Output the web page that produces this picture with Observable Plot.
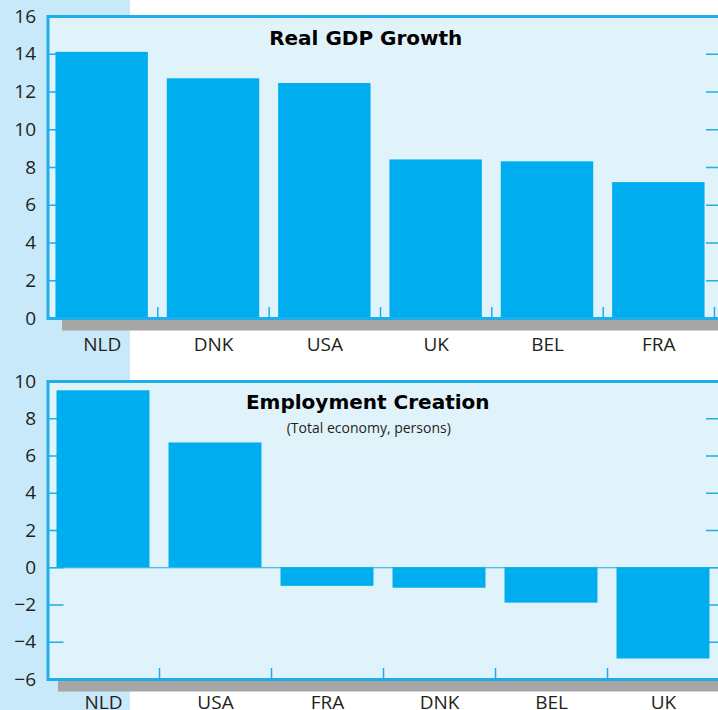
<!DOCTYPE html>
<html><head><meta charset="utf-8">
<script src="https://cdn.jsdelivr.net/npm/d3@7"></script>
<script src="https://cdn.jsdelivr.net/npm/@observablehq/plot@0.6"></script>
<style>
html,body{margin:0;padding:0;width:718px;height:710px;overflow:hidden;background:#fff;}
#wrap{position:relative;width:718px;height:710px;overflow:hidden;}
#strip{position:absolute;left:0;top:0;width:130px;height:710px;background:#c8e9f9;}
#p1,#p2{position:absolute;left:0;width:724px;}
#p1{top:0px}
#p2{top:360px}
#p1 svg,#p2 svg{max-width:none !important;overflow:visible;display:block;}
</style></head><body>
<div id="wrap"><div id="strip"></div><div id="p1"></div><div id="p2"></div></div>
<script>
// ---- data ----
const gdpTitle = "Real GDP Growth";
const gdpCountries = ["NLD", "DNK", "USA", "UK", "BEL", "FRA"];
const gdpValues = [14.1, 12.7, 12.45, 8.4, 8.3, 7.2];
const gdpTicks = [0, 2, 4, 6, 8, 10, 12, 14, 16];

const empTitle = "Employment Creation";
const empSubtitle = "(Total economy, persons)";
const empCountries = ["NLD", "USA", "FRA", "DNK", "BEL", "UK"];
const empValues = [9.5, 6.7, -1.0, -1.1, -1.9, -4.9];
const empTicks = [-6, -4, -2, 0, 2, 4, 6, 8, 10];

const BLUE = "#00aeef";
const EDGE = "#1eaee9";
const BG = "#e0f2fa";
const SHADOW = "#a6a6a6";
const INK = "#231f20";
const FONT = "Open Sans, Noto Sans, sans-serif";
const TITLE_FONT = "DejaVu Sans, sans-serif";

function panel({countries, values, ticks, domain, xRange, height, marginTop, marginBottom, shadowDx, labelPad, title, titleDx, titleDy, subtitle, subtitleDy, zero}) {
  const data = countries.map((c, i) => ({c, v: values[i]}));
  const step = (xRange[1] - xRange[0]) / countries.length;
  const marks = [
    Plot.frame({fill: SHADOW, dx: shadowDx, dy: 12}),
    Plot.frame({fill: BG}),
    Plot.axisY(ticks, {anchor: "left", tickSize: 16, dx: 16, tickFormat: () => "", stroke: EDGE, strokeWidth: 1.5, label: null}),
    Plot.axisY(ticks, {anchor: "right", tickSize: 16, dx: -16, tickFormat: () => "", stroke: EDGE, strokeWidth: 1.5, label: null}),
    Plot.axisX({anchor: "bottom", tickSize: 11, dy: -11, dx: step / 2, tickFormat: () => "", stroke: EDGE, strokeWidth: 1.5, label: null}),
    Plot.axisY(ticks, {anchor: "left", tickSize: 0, tickPadding: 12, fontSize: 19, fill: INK, label: null}),
    Plot.axisX({anchor: "bottom", tickSize: 0, tickPadding: labelPad, fontSize: 19, fill: INK, label: null})
  ];
  if (zero) marks.push(Plot.ruleY([0], {stroke: EDGE, strokeWidth: 1.2}));
  marks.push(Plot.barY(data, {x: "c", y: "v", fill: BLUE}));
  marks.push(Plot.frame({stroke: EDGE, strokeWidth: 3}));
  marks.push(Plot.text([title], {frameAnchor: "top", lineAnchor: "middle", dx: titleDx, dy: titleDy, fontFamily: TITLE_FONT, fontWeight: "bold", fontSize: 20, fill: "#000"}));
  if (subtitle) marks.push(Plot.text([subtitle], {frameAnchor: "top", lineAnchor: "middle", dx: titleDx + 1, dy: subtitleDy, fontSize: 14, fill: INK}));
  return Plot.plot({
    width: 724,
    height,
    marginLeft: 47.5,
    marginRight: 3,
    marginTop,
    marginBottom,
    style: {fontFamily: FONT, background: "transparent", overflow: "visible", maxWidth: "none"},
    x: {domain: countries, range: xRange, paddingInner: 0.17, paddingOuter: 0.085, round: false},
    y: {domain, ticks},
    marks
  });
}

document.getElementById("p1").appendChild(panel({
  countries: gdpCountries, values: gdpValues, ticks: gdpTicks, domain: [0, 16],
  xRange: [46, 714], height: 360, marginTop: 16, marginBottom: 42, shadowDx: 14, labelPad: 19,
  title: gdpTitle, titleDx: -19, titleDy: 22, zero: false
}));
document.getElementById("p2").appendChild(panel({
  countries: empCountries, values: empValues, ticks: empTicks, domain: [-6, 10],
  xRange: [47, 719], height: 350, marginTop: 21, marginBottom: 31, shadowDx: 10, labelPad: 16,
  title: empTitle, titleDx: -17, titleDy: 21, subtitle: empSubtitle, subtitleDy: 47, zero: true
}));
</script>
</body></html>
